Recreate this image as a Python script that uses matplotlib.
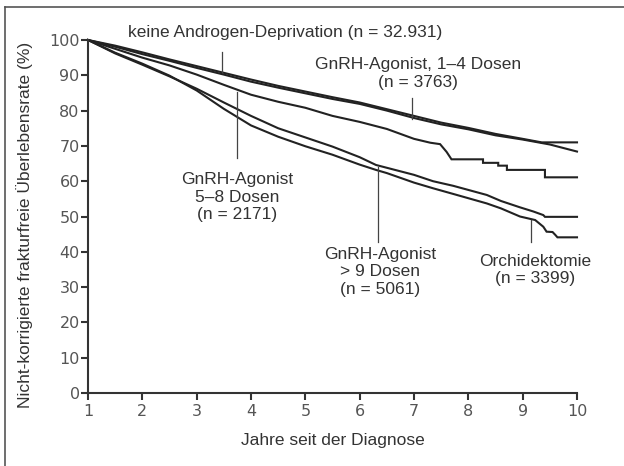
import matplotlib.pyplot as plt
from matplotlib.lines import Line2D

# Kaplan-Meier-Kurven (Jahre, %)
keine_x = [1, 1.5, 2, 2.5, 3, 3.5, 4, 4.5, 5, 5.5, 6, 6.5, 7, 7.5, 8, 8.5, 9, 9.5, 10]
keine_y = [100, 98.1, 96.0, 94.1, 92.1, 90.2, 88.2, 86.5, 84.9, 83.3, 81.9, 80.0,
           77.9, 76.1, 74.7, 73.0, 71.8, 70.4, 68.4]

dosen14_x = [1, 1.5, 2, 2.5, 3, 3.5, 4, 4.5, 5, 5.5, 6, 6.5, 7, 7.5, 8, 8.5, 9, 9.35, 10]
dosen14_y = [100, 98.4, 96.5, 94.5, 92.6, 90.7, 88.8, 87.0, 85.4, 83.8, 82.3, 80.4,
             78.5, 76.6, 75.1, 73.4, 72.0, 71.0, 71.0]

dosen58_x = [1, 1.5, 2, 2.5, 3, 3.5, 4, 4.5, 5, 5.5, 6, 6.5, 7, 7.3, 7.48, 7.6, 7.69,
             8.27, 8.27, 8.55, 8.55, 8.71, 8.71, 9.41, 9.41, 10]
dosen58_y = [100, 97.5, 95.0, 92.8, 90.2, 87.3, 84.5, 82.5, 80.8, 78.5, 76.8, 74.8,
             72.0, 70.9, 70.5, 68.3, 66.2, 66.2, 65.2, 65.2, 64.4, 64.4, 63.2, 63.2,
             61.1, 61.1]

dosen9_x = [1, 1.5, 2, 2.5, 3, 3.5, 4, 4.5, 5, 5.5, 6, 6.3, 6.5, 7, 7.35, 7.72, 8.34,
            8.6, 8.95, 9.2, 9.38, 9.41, 10]
dosen9_y = [100, 96.2, 93.0, 89.7, 86.2, 82.3, 78.5, 75.0, 72.4, 69.8, 66.8, 64.6,
            63.8, 61.8, 60.0, 58.7, 56.1, 54.4, 52.6, 51.4, 50.4, 49.9, 49.9]

orchi_x = [1, 1.5, 2, 2.5, 3, 3.5, 4, 4.5, 5, 5.5, 6, 6.3, 6.5, 7, 7.35, 7.72, 8.34,
           8.6, 8.95, 9.23, 9.38, 9.44, 9.55, 9.6, 9.64, 10]
orchi_y = [100, 96.4, 93.3, 89.9, 85.7, 80.5, 75.8, 72.6, 69.9, 67.5, 64.7, 63.2,
           62.3, 59.6, 58.0, 56.4, 53.7, 52.3, 50.0, 49.0, 47.1, 45.7, 45.6, 44.8,
           44.1, 44.1]

curves = [(keine_x, keine_y), (dosen14_x, dosen14_y), (dosen58_x, dosen58_y),
          (dosen9_x, dosen9_y), (orchi_x, orchi_y)]

x_ticks = list(range(1, 11))
y_ticks = list(range(0, 101, 10))

txt_col = "#333333"
plt.rcParams["font.family"] = ["Liberation Sans", "DejaVu Sans"]

fig = plt.figure(figsize=(6.24, 4.66), dpi=100)
ax = fig.add_axes([88 / 624, 1 - 393 / 466, 489 / 624, 353 / 466])

for xs, ys in curves:
    ax.plot(xs, ys, color="#222222", lw=1.5, clip_on=False, solid_joinstyle="miter")

ax.set_xlim(1, 10)
ax.set_ylim(0, 100)
ax.set_xticks(x_ticks)
ax.set_yticks(y_ticks)
for s in ["top", "right"]:
    ax.spines[s].set_visible(False)
for s in ["left", "bottom"]:
    ax.spines[s].set_color("#333333")
    ax.spines[s].set_linewidth(1.5)
ax.tick_params(axis="both", direction="out", length=5, width=1.5, color="#333333",
               labelcolor="#555555", labelsize=11.5)
ax.tick_params(axis="y", pad=1)
ax.tick_params(axis="x", pad=3)
for lab in ax.get_xticklabels() + ax.get_yticklabels():
    lab.set_family("DejaVu Sans")

ax.set_xlabel("Jahre seit der Diagnose", fontsize=12.5, color=txt_col, labelpad=10)
fig.text(25 / 624, 1 - 225 / 466, "Nicht-korrigierte frakturfreie Überlebensrate (%)",
         rotation=90, ha="center", va="center", fontsize=12.5, color=txt_col)

# Beschriftungen mit Zeigerlinien
labels = [
    (1.736, 102.0, "keine Androgen-Deprivation (n = 32.931)", "left"),
    (7.07, 90.5, "GnRH-Agonist, 1–4 Dosen\n(n = 3763)", "center"),
    (3.74, 55.5, "GnRH-Agonist\n5–8 Dosen\n(n = 2171)", "center"),
    (6.37, 34.3, "GnRH-Agonist\n> 9 Dosen\n(n = 5061)", "center"),
    (9.23, 34.8, "Orchidektomie\n(n = 3399)", "center"),
]
for x, y, t, ha in labels:
    ax.text(x, y, t, ha=ha, va="center", fontsize=12.5, color=txt_col,
            linespacing=1.2, clip_on=False)

pointers = [(3.46, 96.6, 90.9), (6.96, 83.5, 77.5), (3.74, 85.4, 66.6),
            (6.33, 64.1, 42.8), (9.15, 49.0, 42.9)]
for x, y0, y1 in pointers:
    ax.plot([x, x], [y0, y1], color="#444444", lw=0.9, clip_on=False)

# Rahmen (oben und links)
fig.add_artist(Line2D([5 / 624, 1], [1 - 7 / 466, 1 - 7 / 466], color="#555555", lw=1.2))
fig.add_artist(Line2D([5 / 624, 5 / 624], [0, 1 - 7 / 466], color="#555555", lw=1.2))

fig.savefig("out.png", dpi=100)
